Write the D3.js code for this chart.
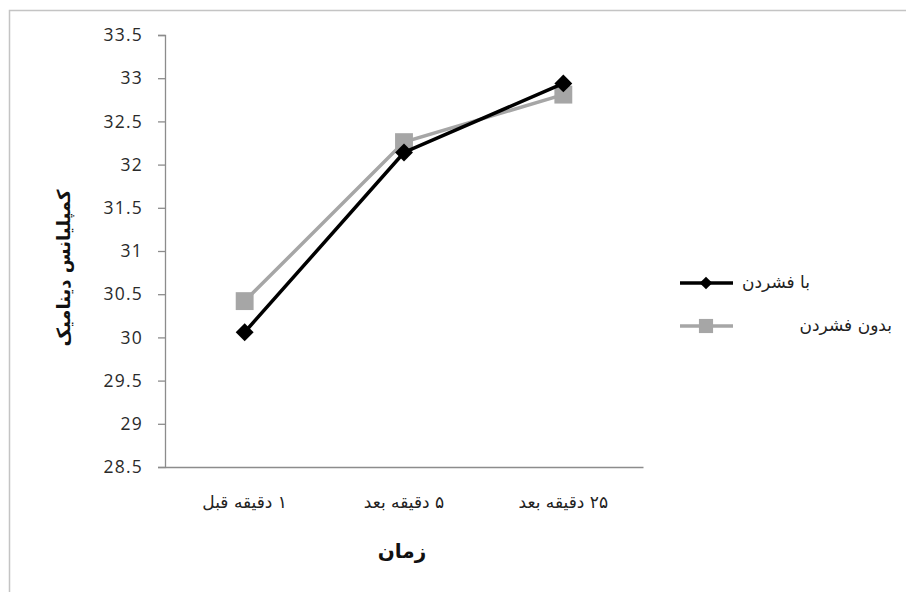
<!DOCTYPE html>
<html>
<head>
<meta charset="utf-8">
<script src="https://cdn.jsdelivr.net/npm/d3@7"></script>
<style>
  body { margin: 0; background: #fff; }
  svg { display: block; }
</style>
</head>
<body>
<figure id="chart" style="margin:0"></figure>
<script>
// data
const categories = ["۱ دقیقه قبل", "۵ دقیقه بعد", "۲۵ دقیقه بعد"];
const withPress = [30.06, 32.14, 32.94];
const withoutPress = [30.42, 32.26, 32.81];
const seriesNames = ["با فشردن", "بدون فشردن"];
const yTicks = [28.5, 29, 29.5, 30, 30.5, 31, 31.5, 32, 32.5, 33, 33.5];

const width = 906, height = 592;
const plot = {left: 165, right: 643, top: 35, bottom: 467};

const svg = d3.select("figure#chart")
  .append("svg")
  .attr("width", width)
  .attr("height", height);

// outer frame (only top and left visible)
svg.append("path")
  .attr("d", "M9.5,592 V10.5 H906")
  .attr("fill", "none")
  .attr("stroke", "#c4c4c4")
  .attr("stroke-width", 1.5);

const x = d3.scaleBand()
  .domain(categories)
  .range([plot.left, plot.right]);

const y = d3.scaleLinear()
  .domain([28.5, 33.5])
  .range([plot.bottom, plot.top]);

// Y axis
const yAxis = svg.append("g")
  .attr("transform", "translate(" + plot.left + ",0)")
  .call(d3.axisLeft(y).tickValues(yTicks).tickSize(7).tickPadding(15).tickFormat(d3.format("")));
yAxis.select(".domain").attr("stroke", "#8c8c8c").attr("stroke-width", 1.3);
yAxis.selectAll(".tick line").attr("stroke", "#8c8c8c").attr("stroke-width", 1.3);
yAxis.selectAll("text")
  .style("font-family", "'Open Sans', sans-serif")
  .style("font-size", "17.5px")
  .style("letter-spacing", "1.2px")
  .attr("fill", "#2a2a2a");

// X axis
const xAxis = svg.append("g")
  .attr("transform", "translate(0," + plot.bottom + ")")
  .call(d3.axisBottom(x).tickSize(0).tickPadding(29));
xAxis.select(".domain").attr("stroke", "#8c8c8c").attr("stroke-width", 1.3);
xAxis.selectAll("text")
  .attr("direction", "rtl")
  .style("font-family", "'DejaVu Sans', sans-serif")
  .style("font-size", "17px")
  .attr("fill", "#222");

// axis titles
svg.append("text")
  .attr("transform", "translate(70,268) rotate(-90)")
  .attr("text-anchor", "middle")
  .attr("direction", "rtl")
  .style("font-family", "'DejaVu Sans', sans-serif")
  .style("font-size", "18px")
  .style("font-weight", "bold")
  .attr("fill", "#111")
  .text("کمپلیانس دینامیک");

svg.append("text")
  .attr("x", 402)
  .attr("y", 558)
  .attr("text-anchor", "middle")
  .style("font-family", "'DejaVu Sans', sans-serif")
  .style("font-size", "20px")
  .style("font-weight", "bold")
  .attr("fill", "#111")
  .text("زمان");

const cx = d => x(d) + x.bandwidth() / 2;
const line = d3.line()
  .x((d, i) => cx(categories[i]))
  .y(d => y(d));

const series = [
  {name: seriesNames[1], values: withoutPress, color: "#a6a6a6", symbol: d3.symbolSquare, size: 320, rot: 0},
  {name: seriesNames[0], values: withPress, color: "#000", symbol: d3.symbolSquare, size: 160, rot: 45}
];

series.forEach(s => {
  svg.append("path")
    .datum(s.values)
    .attr("d", line)
    .attr("fill", "none")
    .attr("stroke", s.color)
    .attr("stroke-width", 3.5);
  svg.append("g").selectAll("path")
    .data(s.values)
    .enter()
    .append("path")
    .attr("transform", (d, i) => "translate(" + cx(categories[i]) + "," + y(d) + ") rotate(" + s.rot + ")")
    .attr("d", d3.symbol().type(s.symbol).size(s.size))
    .attr("fill", s.color);
});

// legend
const legend = [
  {name: seriesNames[0], color: "#000", size: 80, rot: 45, y: 283, textX: 810},
  {name: seriesNames[1], color: "#a6a6a6", size: 200, rot: 0, y: 326, textX: 892}
];
legend.forEach(l => {
  svg.append("line")
    .attr("x1", 680).attr("x2", 733)
    .attr("y1", l.y).attr("y2", l.y)
    .attr("stroke", l.color)
    .attr("stroke-width", 3.5);
  svg.append("path")
    .attr("transform", "translate(706," + l.y + ") rotate(" + l.rot + ")")
    .attr("d", d3.symbol().type(d3.symbolSquare).size(l.size))
    .attr("fill", l.color);
  svg.append("text")
    .attr("x", l.textX)
    .attr("y", l.y + 5)
    .attr("text-anchor", "end")
    .style("font-family", "'DejaVu Sans', sans-serif")
    .style("font-size", "17px")
    .attr("fill", "#222")
    .text(l.name);
});
</script>
</body>
</html>
